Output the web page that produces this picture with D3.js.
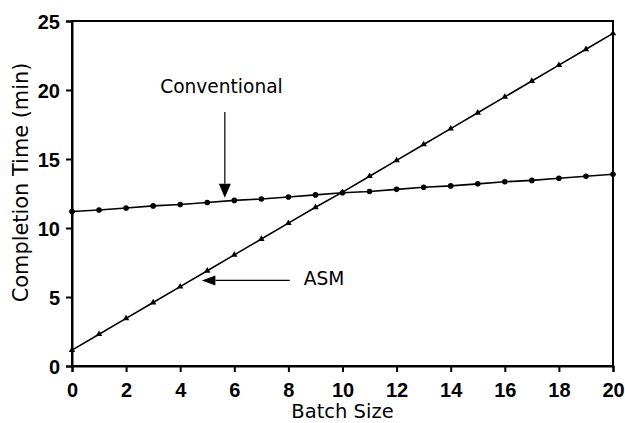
<!DOCTYPE html>
<html>
<head>
<meta charset="utf-8">
<script src="https://cdn.jsdelivr.net/npm/d3@7"></script>
<style>
  body { margin: 0; background: #fff; }
  .tick text { font-family: "Liberation Sans", Arial, sans-serif; font-weight: bold; font-size: 20px; fill: #000; }
  .lbl { font-family: "DejaVu Sans", sans-serif; fill: #000; }
</style>
</head>
<body>
<div id="chart-area"></div>
<script>
// data
var batchSize = [0, 1, 2, 3, 4, 5, 6, 7, 8, 9, 10, 11, 12, 13, 14, 15, 16, 17, 18, 19, 20];
var conventional = [11.2, 11.3, 11.45, 11.6, 11.7, 11.85, 12.0, 12.1, 12.25, 12.4, 12.55,
                    12.65, 12.8, 12.95, 13.05, 13.2, 13.35, 13.45, 13.6, 13.75, 13.9];
var asm = [1.15, 2.3, 3.45, 4.6, 5.75, 6.9, 8.05, 9.2, 10.35, 11.5, 12.6,
           13.75, 14.9, 16.05, 17.2, 18.35, 19.5, 20.65, 21.8, 22.95, 24.1];
var xTicks = [0, 2, 4, 6, 8, 10, 12, 14, 16, 18, 20];
var yTicks = [0, 5, 10, 15, 20, 25];

var margin = {top: 21, right: 12, bottom: 57, left: 72};
var width = 625 - margin.left - margin.right,
    height = 423 - margin.top - margin.bottom;

var svg = d3.select("#chart-area").append("svg")
    .attr("width", 625)
    .attr("height", 423)
    .append("g")
    .attr("transform", `translate(${margin.left}, ${margin.top})`);

var x = d3.scaleLinear().domain([0, 20]).range([0, width]);
var y = d3.scaleLinear().domain([0, 25]).range([height, 0]);

// frame
svg.append("rect")
    .attr("width", width).attr("height", height)
    .attr("fill", "none").attr("stroke", "#000").attr("stroke-width", 2);

svg.append("g")
    .attr("transform", "translate(0," + height + ")")
    .call(d3.axisBottom(x).tickValues(xTicks).tickSize(6).tickPadding(11))
    .call(g => g.select(".domain").attr("stroke-width", 2))
    .call(g => g.selectAll(".tick line").attr("stroke-width", 2));

svg.append("g")
    .call(d3.axisLeft(y).tickValues(yTicks).tickSize(6).tickPadding(6))
    .call(g => g.select(".domain").attr("stroke-width", 2))
    .call(g => g.selectAll(".tick line").attr("stroke-width", 2))
    .call(g => g.selectAll(".tick text").attr("dy", "0.36em"));

var line = d3.line().x((d, i) => x(batchSize[i])).y(d => y(d));

svg.append("path").datum(conventional)
    .attr("d", line).attr("fill", "none").attr("stroke", "#000").attr("stroke-width", 1.6);
svg.append("path").datum(asm)
    .attr("d", line).attr("fill", "none").attr("stroke", "#000").attr("stroke-width", 1.6);

svg.selectAll(".dot")
    .data(conventional)
    .join("circle")
    .attr("class", "dot")
    .attr("cx", (d, i) => x(batchSize[i]))
    .attr("cy", d => y(d))
    .attr("r", 2.8)
    .attr("fill", "#000");

var tri = d3.symbol().type(d3.symbolTriangle).size(18);
svg.selectAll(".tri")
    .data(asm)
    .join("path")
    .attr("class", "tri")
    .attr("transform", (d, i) => `translate(${x(batchSize[i])},${y(d)})`)
    .attr("d", tri)
    .attr("fill", "#000");

// axis titles
svg.append("text").attr("class", "lbl")
    .attr("x", width / 2)
    .attr("y", height + 52)
    .attr("text-anchor", "middle")
    .attr("font-size", 19.5)
    .text("Batch Size");

svg.append("text").attr("class", "lbl")
    .attr("transform", `translate(-44, ${y(13.3)}) rotate(-90)`)
    .attr("text-anchor", "middle")
    .attr("font-size", 20.9)
    .text("Completion Time (min)");

// annotations
svg.append("text").attr("class", "lbl")
    .attr("x", x(3.26)).attr("y", y(19.8))
    .attr("font-size", 18.6)
    .text("Conventional");

svg.append("line")
    .attr("x1", x(5.65)).attr("x2", x(5.65))
    .attr("y1", y(18.4)).attr("y2", y(13.2))
    .attr("stroke", "#000").attr("stroke-width", 1.2);
svg.append("path")
    .attr("d", `M${x(5.65) - 6},${y(13.2)} L${x(5.65) + 6},${y(13.2)} L${x(5.65)},${y(12.2)} Z`)
    .attr("fill", "#000");

svg.append("line")
    .attr("x1", x(8.05)).attr("x2", x(5.3))
    .attr("y1", y(6.2)).attr("y2", y(6.2))
    .attr("stroke", "#000").attr("stroke-width", 1.2);
svg.append("path")
    .attr("d", `M${x(5.3)},${y(6.2) - 5} L${x(5.3)},${y(6.2) + 5} L${x(4.8)},${y(6.2)} Z`)
    .attr("fill", "#000");

svg.append("text").attr("class", "lbl")
    .attr("x", x(8.57)).attr("y", y(5.9))
    .attr("font-size", 18.6)
    .text("ASM");
</script>
</body>
</html>
